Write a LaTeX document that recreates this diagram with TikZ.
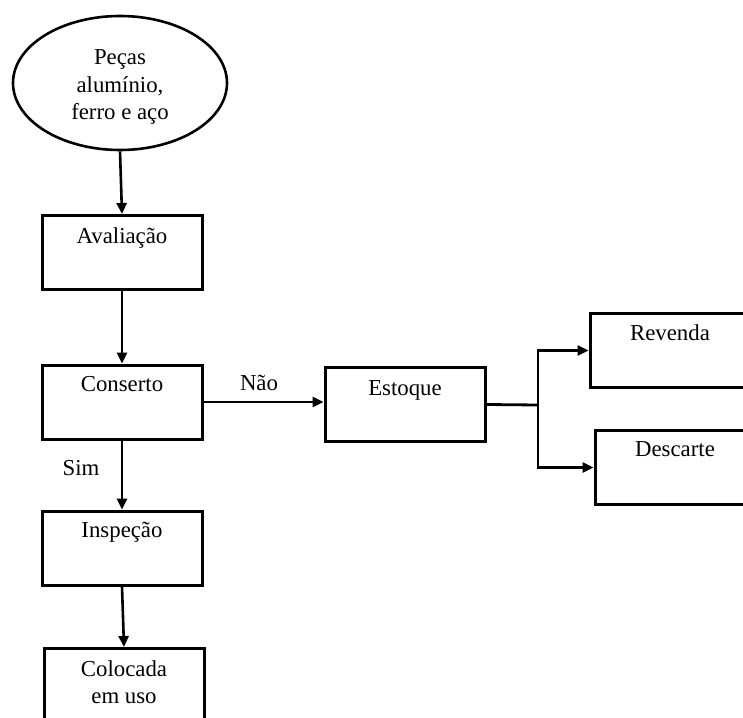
\documentclass[tikz,border=0pt]{standalone}
\usepackage{fontspec}
\setmainfont{Liberation Serif}
\usetikzlibrary{arrows.meta,shapes.geometric}

\begin{document}
\begin{tikzpicture}[x=1pt,y=-1pt,
  txt/.style={font=\fontsize{22.8}{27.5}\selectfont, inner sep=0pt, align=center},
  stepbox/.style={draw, line width=3pt, minimum width=160pt, minimum height=74pt, inner sep=0pt},
  startshape/.style={draw, ellipse, line width=2.6pt, minimum width=214pt, minimum height=134pt, inner sep=0pt},
  flow/.style={line width=2.6pt, -{Triangle[length=11pt,width=10pt]}},
  plain/.style={line width=2.8pt}
]
\useasboundingbox (0,0) rectangle (743,717);
\clip (0,0) rectangle (743,717);

% start
\node[startshape] (pecas) at (120,83) {};
\node[txt] (pecast) at ([yshift=-4pt]pecas.center) {Peças\\alumínio,\\ferro e aço};

% main column
\node[stepbox] (aval) at (122,252.5) {};
\node[stepbox] (cons) at (122,402) {};
\node[stepbox] (insp) at (122,548) {};
\node[stepbox] (col)  at (124,685.5) {};

% branch for rejected parts
\node[stepbox] (est)  at (405,404.5) {};
\node[stepbox] (rev)  at (670,350.5) {};
\node[stepbox] (desc) at (675,467.5) {};

% box texts, set near the top edge
\node[txt, anchor=base] (avalt) at ([yshift=-29pt]aval.north) {Avaliação};
\node[txt, anchor=base] (const) at ([yshift=-28pt]cons.north) {Conserto};
\node[txt, anchor=base] (inspt) at ([yshift=-28pt]insp.north) {Inspeção};
\node[txt, anchor=north] (colt) at ([yshift=-13pt]col.north) {Colocada\\em uso};
\node[txt, anchor=base] (estt)  at ([yshift=-29pt]est.north) {Estoque};
\node[txt, anchor=base] (revt)  at ([yshift=-28pt]rev.north) {Revenda};
\node[txt, anchor=base] (desct) at ([yshift=-27pt]desc.north) {Descarte};

% connectors
\draw[flow] (pecas.south) -- (aval.north);
\draw[flow] (aval.south) -- (cons.north);
\draw[flow] (cons.south) -- (insp.north);
\draw[flow] (insp.south) -- (col.north);
\draw[flow] (cons.east) -- (cons.east -| est.west);

\coordinate (split) at (538,405);
\draw[plain] (est.east) -- (split);
\draw[flow] (split) |- (rev.west);
\draw[flow] (split) |- (desc.west);

% decision labels
\node[txt, anchor=base] (nao) at (259,390) {Não};
\node[txt, anchor=base] (sim) at (81,475) {Sim};
\end{tikzpicture}
\end{document}
